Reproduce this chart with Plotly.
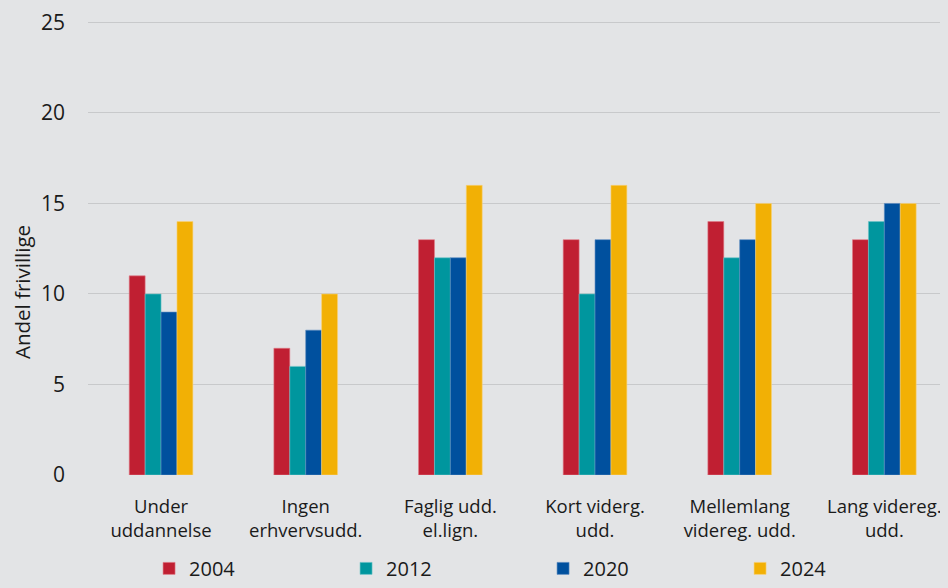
import plotly.graph_objects as go

categories = ["Under<br>uddannelse", "Ingen<br>erhvervsudd.", "Faglig udd.<br>el.lign.",
              "Kort viderg.<br>udd.", "Mellemlang<br>videreg. udd.", "Lang videreg.<br>udd."]
years = ["2004", "2012", "2020", "2024"]
v2004 = [11, 7, 13, 13, 14, 13]
v2012 = [10, 6, 12, 10, 12, 14]
v2020 = [9, 8, 12, 13, 13, 15]
v2024 = [14, 10, 16, 16, 15, 15]
series = [v2004, v2012, v2020, v2024]
colors = ["#C01F32", "#00969E", "#00509E", "#F2B005"]
edges = ["#E07A86", "#6CC4C8", "#5A8AC0", "#F8D27A"]

fig = go.Figure()
for name, vals, c, e in zip(years, series, colors, edges):
    fig.add_trace(go.Bar(x=list(range(len(categories))), y=vals, name=name,
                         marker=dict(color=c, line=dict(color=e, width=0.6))))

bg = "#E3E4E6"
fig.update_layout(
    width=940, height=580,
    paper_bgcolor=bg, plot_bgcolor=bg,
    margin=dict(l=80, r=0, t=8.6, b=113, autoexpand=False),
    barmode="group", bargap=0.56, bargroupgap=0,
    font=dict(family="Open Sans, Noto Sans, sans-serif", color="#1a1a1a", size=19),
    xaxis=dict(tickvals=list(range(len(categories))), ticktext=categories,
               range=[-0.505, 5.44], showgrid=False, zeroline=False, showline=False,
               tickfont=dict(size=18.5), ticks="", automargin=False, ticklabelstandoff=18,
               ticklabeloverflow="allow"),
    yaxis=dict(range=[0, 25.3], tickvals=[0, 5, 10, 15, 20, 25], showgrid=True,
               gridcolor="#C8C9CB", gridwidth=1,
               zeroline=False, ticks="", ticklabelstandoff=22, automargin=False,
               tickfont=dict(size=21), ticklabeloverflow="allow"),
    legend=dict(orientation="h", x=0.071, xanchor="left", y=-0.2465, yanchor="bottom",
                entrywidth=152, entrywidthmode="pixels", font=dict(size=20),
                bgcolor="rgba(0,0,0,0)", tracegroupgap=0),
    annotations=[dict(text="Andel frivillige", textangle=-90, xref="paper", yref="paper",
                      x=-0.0767, y=0.3995, xanchor="center", yanchor="middle",
                      showarrow=False, font=dict(size=20.5))],
)
fig.write_html("out.html",
               post_script="document.body.style.background='#E3E4E6';")
